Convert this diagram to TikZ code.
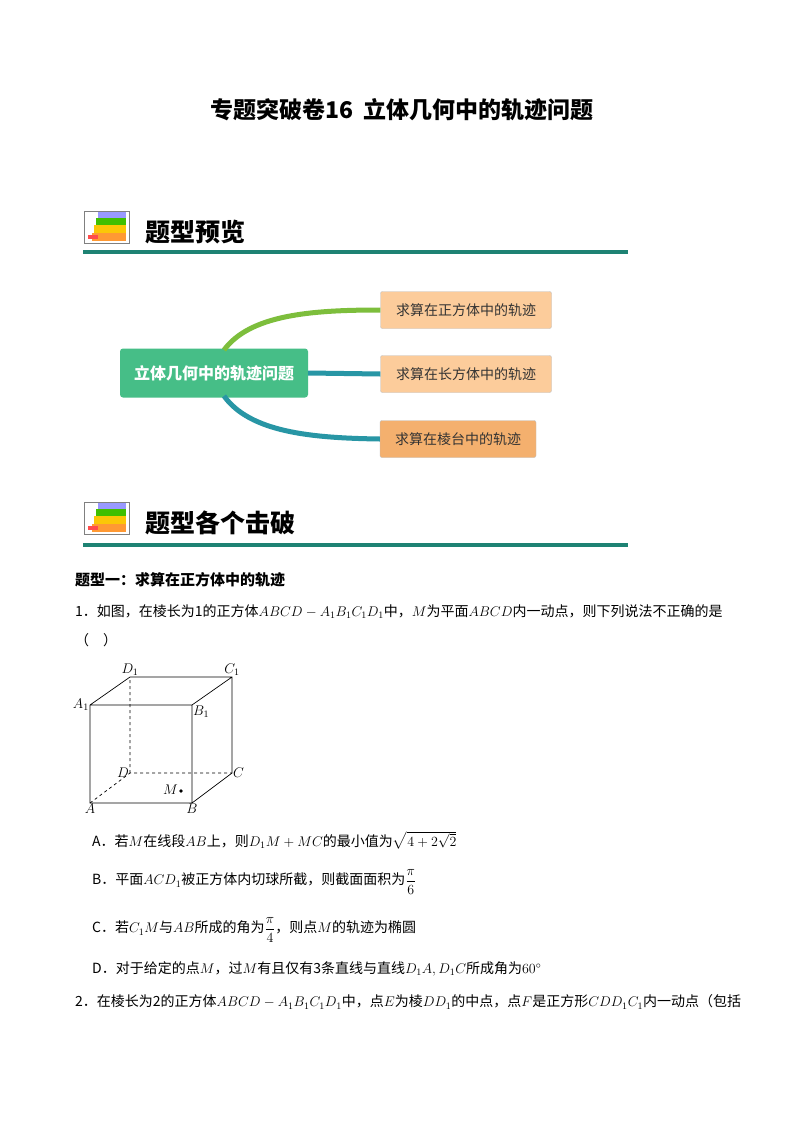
\RequirePackage{fix-cm}
\documentclass[tikz,border=0pt]{standalone}
\usepackage{amsmath}
\usepackage{fontspec}
\setmainfont{Noto Sans CJK SC}
\begin{document}
\begin{tikzpicture}[x=1pt,y=-1pt,
  txt/.style={anchor=west,inner sep=0pt,font=\fontsize{14}{16}\selectfont},
  leaf/.style={draw=black!25,rounded corners=2pt,minimum width=171pt,minimum height=37pt,inner sep=4pt,font=\fontsize{14}{15}\selectfont,text=black!80},
  hline/.style={line width=4pt,color=hl},
  lab/.style={inner sep=1pt,font=\fontsize{14}{15}\selectfont}]
\definecolor{gbox}{RGB}{70,190,135}
\definecolor{or1}{RGB}{252,204,155}
\definecolor{or2}{RGB}{244,176,110}
\definecolor{cg}{RGB}{125,190,60}
\definecolor{ct}{RGB}{40,150,165}
\definecolor{hl}{RGB}{30,130,115}
\useasboundingbox (0,0) rectangle (800,1132);
\fill[white] (0,0) rectangle (800,1132);
% title
\node[font=\fontsize{23}{26}\selectfont\bfseries] (title) at (402,110) {专题突破卷16\ \ 立体几何中的轨迹问题};
% header 1
\newcommand\booksicon[2]{%
 \draw[black!50,line width=1pt] (#1,#2) rectangle ++(45,32);
 \fill[orange!80] (#1+8,#2+22) rectangle ++(34,8);
 \fill[yellow!60!orange] (#1+10,#2+14) rectangle ++(32,8);
 \fill[green!50!olive] (#1+12,#2+7) rectangle ++(30,7);
 \fill[blue!40] (#1+14,#2+1) rectangle ++(28,6);
 \fill[red!70] (#1+4,#2+24) rectangle ++(10,4);}
\booksicon{84}{211}
\node[anchor=west,font=\fontsize{25}{27}\selectfont\bfseries] (h1) at (142,232) {题型预览};
\draw[hline] (83,252) -- (628,252);
% mind map
\node[fill=gbox,rounded corners=3pt,minimum width=188pt,minimum height=49pt,text=white,font=\fontsize{16}{17}\selectfont\bfseries] (root) at (214,373) {立体几何中的轨迹问题};
\node[leaf,fill=or1] (l1) at (466,310) {求算在正方体中的轨迹};
\node[leaf,fill=or1] (l2) at (466,374) {求算在长方体中的轨迹};
\node[leaf,fill=or2,minimum width=156pt] (l3) at (458,439) {求算在棱台中的轨迹};
\draw[cg,line width=5pt] (224,350) .. controls (250,315) and (310,310) .. (l1.west);
\draw[ct,line width=5pt] (root.east) -- (l2.west);
\draw[ct,line width=5pt] (224,396) .. controls (250,432) and (310,438) .. (l3.west);
% header 2
\booksicon{84}{502}
\node[anchor=west,font=\fontsize{25}{27}\selectfont\bfseries] (h2) at (142,523) {题型各个击破};
\draw[hline] (83,545) -- (628,545);
% text
\node[txt,font=\fontsize{15}{17}\selectfont\bfseries] (t1) at (75,580) {题型一：求算在正方体中的轨迹};
\node[txt] (q1) at (75,612) {1．如图，在棱长为1的正方体$ABCD-A_1B_1C_1D_1$中，$M$为平面$ABCD$内一动点，则下列说法不正确的是};
\node[txt] (q1b) at (75,640) {（\quad ）};
% cube
\coordinate (A) at (90,803); \coordinate (B) at (192,803);
\coordinate (C) at (232,773); \coordinate (D) at (130,773);
\coordinate (A1) at (90,705); \coordinate (B1) at (192,705);
\coordinate (C1) at (232,677); \coordinate (D1) at (130,677);
\draw[line width=0.7pt] (A)--(B)--(C)--(C1)--(D1)--(A1)--cycle (A1)--(B1)--(C1) (B1)--(B);
\draw[line width=0.7pt,dashed] (A)--(D)--(C) (D)--(D1);
\node[lab,anchor=east] at (A1) {$A_1$};
\node[lab,anchor=north west] at (B1) {$B_1$};
\node[lab,anchor=south] at (D1) {$D_1$};
\node[lab,anchor=south] at (C1) {$C_1$};
\node[lab,anchor=west] at (C) {$C$};
\node[lab,anchor=east] at (D) {$D$};
\node[lab,anchor=north] at (A) {$A$};
\node[lab,anchor=north] at (B) {$B$};
\fill (181,791) circle (1.8pt);
\node[lab,anchor=east] at (179,790) {$M$};
% options
\node[txt] (oa) at (92,840) {A．若$M$在线段$AB$上，则$D_1M+MC$的最小值为$\sqrt{4+2\sqrt2}$};
\node[txt] (ob) at (92,882) {B．平面$ACD_1$被正方体内切球所截，则截面面积为$\dfrac{\pi}{6}$};
\node[txt] (oc) at (92,930) {C．若$C_1M$与$AB$所成的角为$\dfrac{\pi}{4}$，则点$M$的轨迹为椭圆};
\node[txt] (od) at (92,969) {D．对于给定的点$M$，过$M$有且仅有3条直线与直线$D_1A,D_1C$所成角为$60^\circ$};
\node[txt] (q2) at (75,1002) {2．在棱长为2的正方体$ABCD-A_1B_1C_1D_1$中，点$E$为棱$DD_1$的中点，点$F$是正方形$CDD_1C_1$内一动点（包括};
\end{tikzpicture}
\end{document}
